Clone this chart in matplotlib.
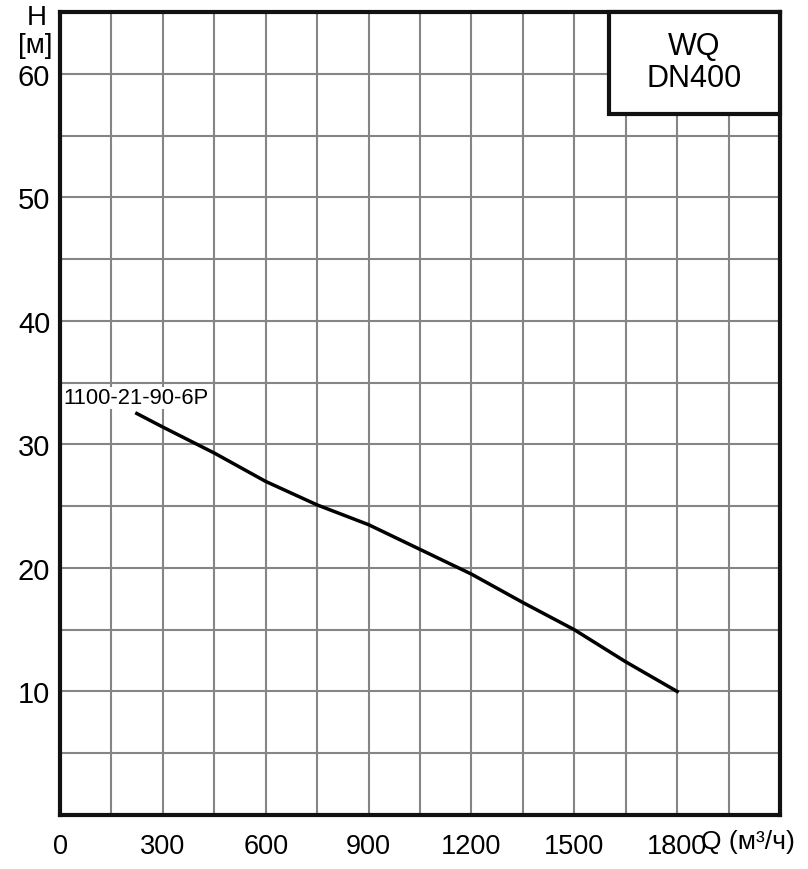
import numpy as np
import matplotlib
matplotlib.use('Agg')
import matplotlib.pyplot as plt
from matplotlib.patches import Rectangle

plt.rcParams['font.family'] = ['Liberation Sans', 'DejaVu Sans']

# Q-H curve
q = [224, 300, 450, 600, 750, 900, 1050, 1200, 1350, 1500, 1650, 1800]
h = [32.5, 31.4, 29.3, 27.0, 25.1, 23.5, 21.5, 19.5, 17.2, 15.0, 12.4, 10.0]
curve_name = '1100-21-90-6P'

x_ticks = [0, 300, 600, 900, 1200, 1500, 1800]
y_ticks = [10, 20, 30, 40, 50, 60]
title_txt = 'WQ\nDN400'

fig = plt.figure(figsize=(8.08, 8.70), dpi=100)
ax = fig.add_axes([60/808, 54/870, 720/808, 803/870])

ax.set_xlim(0, 2100)
ax.set_ylim(0, 65)
ax.set_xticks(np.arange(0, 2101, 150), minor=True)
ax.set_yticks(np.arange(0, 66, 5), minor=True)
ax.set_xticks(x_ticks)
ax.set_yticks(y_ticks)
ax.grid(True, which='both', color='#858585', lw=1.5)
ax.set_axisbelow(True)
ax.tick_params(which='both', length=0)
ax.tick_params(axis='x', labelsize=19.5, pad=13)
ax.tick_params(axis='y', labelsize=21, pad=7)
for s in ax.spines.values():
    s.set_linewidth(3)
    s.set_color('#111111')

ax.plot(q, h, color='black', lw=2.5)
ax.text(3/720, 1 - (399-13)/803, curve_name, transform=ax.transAxes,
        fontsize=15.8, va='center', ha='left', zorder=2,
        bbox=dict(facecolor='white', edgecolor='none', pad=0.5))

# title box in the top right corner
box = Rectangle((549/720, 1 - 102/803), 171/720, 102/803, transform=ax.transAxes,
                facecolor='white', edgecolor='#111111', lw=3, zorder=5, clip_on=False)
ax.add_patch(box)
ax.text((549 + 171/2)/720, 1 - 50/803, title_txt, transform=ax.transAxes,
        fontsize=22, ha='center', va='center', zorder=6, linespacing=1.1)

fig.text(37/808, 1 - 18/870, 'H', fontsize=20, ha='center', va='center')
fig.text(35/808, 1 - 46/870, '[м]', fontsize=20, ha='center', va='center')
fig.text(748/808, 1 - 842/870, 'Q (м³/ч)', fontsize=19, ha='center', va='center')

fig.savefig('out.png', dpi=100)
